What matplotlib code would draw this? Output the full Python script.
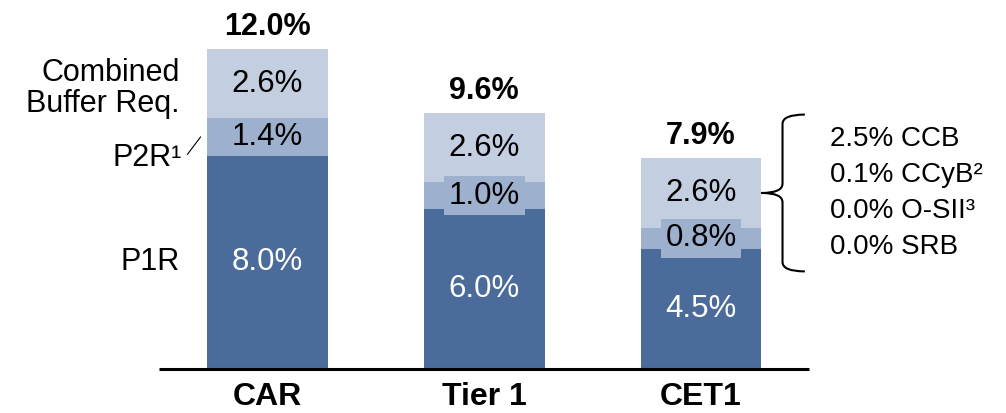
import numpy as np
import matplotlib
matplotlib.use('Agg')
import matplotlib.pyplot as plt
from matplotlib.path import Path
from matplotlib.patches import PathPatch

plt.rcParams['font.family'] = ['Liberation Sans', 'DejaVu Sans']

# data
categories = ['CAR', 'Tier 1', 'CET1']
p1r = [8.0, 6.0, 4.5]
p2r = [1.4, 1.0, 0.8]
cbr = [2.6, 2.6, 2.6]
totals = ['12.0%', '9.6%', '7.9%']
layer_names = ['P1R', 'P2R¹', 'Combined\nBuffer Req.']
buffer_parts = ['2.5% CCB', '0.1% CCyB²', '0.0% O-SII³', '0.0% SRB']

colors = ['#4b6b9b', '#9db0cd', '#c3cee1']
text_colors = ['white', 'black', 'black']

fig = plt.figure(figsize=(10.06, 4.13), dpi=100)
ax = fig.add_axes([0, 0, 1, 1])
ax.set_xlim(-1.234, 3.407)
ax.set_ylim(-1.65, 13.836)
ax.axis('off')

x = np.arange(len(categories))
width = 0.558
layers = [p1r, p2r, cbr]
bottom = np.zeros(len(categories))
for i, vals in enumerate(layers):
    vals = np.array(vals)
    ax.bar(x, vals, width, bottom=bottom, color=colors[i], edgecolor='none')
    for j in range(len(categories)):
        yc = bottom[j] + vals[j] / 2
        kw = {}
        if i == 1 and vals[j] < 1.2:
            kw['bbox'] = dict(boxstyle='square,pad=0.15', fc=colors[i], ec='none')
        ax.text(x[j], yc, '%.1f%%' % vals[j], ha='center', va='center',
                fontsize=22.5, color=text_colors[i], **kw)
    bottom = bottom + vals

# totals
for j in range(len(categories)):
    ax.annotate(totals[j], (x[j], bottom[j]), xytext=(0, 16), textcoords='offset points',
                ha='center', va='center', fontsize=22, fontweight='bold')

# category labels + baseline
ax.hlines(0, -0.5, len(categories) - 0.5, color='black', lw=2.2)
for j in range(len(categories)):
    ax.annotate(categories[j], (x[j], 0), xytext=(0, -20), textcoords='offset points',
                ha='center', va='center', fontsize=23, fontweight='bold')

# layer labels on the left of CAR
lx = x[0] - width / 2 - 0.125
ax.text(lx, p1r[0] / 2, layer_names[0], ha='right', va='center', fontsize=22)
ax.text(lx + 0.01, p1r[0] - 0.1, layer_names[1], ha='right', va='center', fontsize=22)
ax.text(lx, p1r[0] + p2r[0] + cbr[0] / 2 - 0.18, layer_names[2], ha='right', va='center',
        fontsize=22, linespacing=1.05)
# small leader for P2R
ax.plot([lx + 0.035, lx + 0.095], [p1r[0] + 0.05, p1r[0] + 0.7], color='black', lw=0.8)

# brace next to the CET1 buffer
yc = p1r[2] + p2r[2] + cbr[2] / 2
h = 2.94
xt = x[2] + width / 2
xm = xt + 0.097
xe = xt + 0.2
r = 0.35
verts = [(xe, yc + h), (xm, yc + h), (xm, yc + h - r),
         (xm, yc + r), (xm, yc), (xt, yc),
         (xm, yc), (xm, yc - r),
         (xm, yc - h + r), (xm, yc - h), (xe, yc - h)]
codes = [Path.MOVETO, Path.CURVE3, Path.CURVE3,
         Path.LINETO, Path.CURVE3, Path.CURVE3,
         Path.CURVE3, Path.CURVE3,
         Path.LINETO, Path.CURVE3, Path.CURVE3]
ax.add_patch(PathPatch(Path(verts, codes), fc='none', ec='black', lw=1.5))

ax.text(xt + 0.316, yc, '\n'.join(buffer_parts), ha='left', va='center',
        fontsize=20, linespacing=1.5)

fig.savefig('out.png', dpi=100)
